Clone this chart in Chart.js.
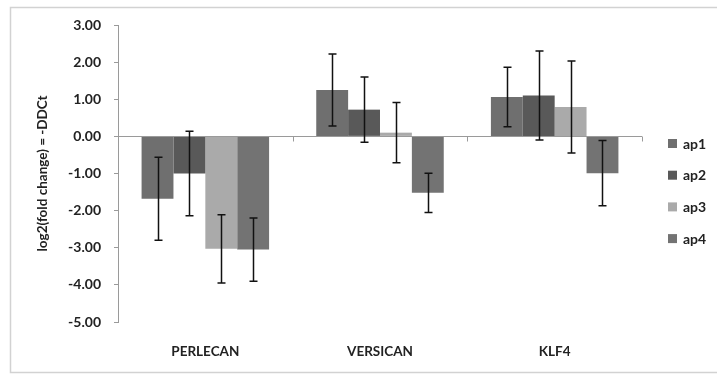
<!DOCTYPE html>
<html>
<head>
<meta charset="utf-8">
<script src="https://cdn.jsdelivr.net/npm/chart.js@4/dist/chart.umd.min.js"></script>
<style>
  html, body { margin: 0; padding: 0; background: #ffffff; }
  #wrap { width: 717px; height: 379px; position: relative; }
</style>
</head>
<body>
<div id="wrap"><canvas id="c" width="717" height="379"></canvas></div>
<script>
// Genes on the category axis
const genes = ['PERLECAN', 'VERSICAN', 'KLF4'];

// Mean -DDCt per sample, one array per sample
const ap1 = [-1.68, 1.25, 1.06];
const ap2 = [-1.00, 0.72, 1.10];
const ap3 = [-3.03, 0.10, 0.79];
const ap4 = [-3.05, -1.52, -0.99];

// Error bar half-lengths (± around each mean)
const ap1Err = [1.12, 0.97, 0.80];
const ap2Err = [1.14, 0.88, 1.20];
const ap3Err = [0.92, 0.81, 1.24];
const ap4Err = [0.85, 0.53, 0.88];

// Value-axis ticks
const yTicks = [3, 2, 1, 0, -1, -2, -3, -4, -5];

const seriesNames = ['ap1', 'ap2', 'ap3', 'ap4'];
const seriesColors = ['#6f6f6f', '#595959', '#aaaaaa', '#737373'];
const seriesValues = [ap1, ap2, ap3, ap4];
const seriesErrors = [ap1Err, ap2Err, ap3Err, ap4Err];

const FONT = 'Lato, "Open Sans", sans-serif';

// Outer frame of the chart
const framePlugin = {
  id: 'frame',
  beforeDraw(chart) {
    const ctx = chart.ctx;
    ctx.save();
    ctx.fillStyle = '#ffffff';
    ctx.fillRect(0, 0, chart.width, chart.height);
    ctx.strokeStyle = '#d2d2d2';
    ctx.lineWidth = 1.5;
    ctx.strokeRect(10.5, 7.5, chart.width + 10, 365);
    ctx.restore();
  }
};

// Zero line with category separators, drawn across the plot
const zeroLinePlugin = {
  id: 'zeroLine',
  beforeDatasetsDraw(chart) {
    const ctx = chart.ctx;
    const x = chart.scales.x, y = chart.scales.y;
    const y0 = Math.round(y.getPixelForValue(0)) + 0.5;
    ctx.save();
    ctx.strokeStyle = '#9a9a9a';
    ctx.lineWidth = 1;
    ctx.beginPath();
    ctx.moveTo(x.left, y0);
    ctx.lineTo(x.right, y0);
    const n = x.ticks.length;
    const step = (x.right - x.left) / n;
    for (let i = 1; i <= n; i++) {
      const px = Math.round(x.left + i * step) + 0.5;
      ctx.moveTo(px, y0);
      ctx.lineTo(px, y0 + 5);
    }
    ctx.stroke();
    ctx.restore();
  }
};

// Error bars with caps, positioned from each bar and the value scale
const errorBarPlugin = {
  id: 'errorBars',
  afterDatasetsDraw(chart) {
    const ctx = chart.ctx;
    const y = chart.scales.y;
    ctx.save();
    ctx.strokeStyle = '#111111';
    ctx.lineWidth = 1.5;
    chart.data.datasets.forEach((ds, di) => {
      const meta = chart.getDatasetMeta(di);
      meta.data.forEach((bar, i) => {
        const v = ds.data[i];
        const e = ds.errors[i];
        const top = y.getPixelForValue(v + e);
        const bot = y.getPixelForValue(v - e);
        const cx = Math.round(bar.x) + 0.5;
        ctx.beginPath();
        ctx.moveTo(cx, top);
        ctx.lineTo(cx, bot);
        ctx.moveTo(cx - 4, top);
        ctx.lineTo(cx + 4, top);
        ctx.moveTo(cx - 4, bot);
        ctx.lineTo(cx + 4, bot);
        ctx.stroke();
      });
    });
    ctx.restore();
  }
};

// Legend at the right, built from the datasets
const sideLegendPlugin = {
  id: 'sideLegend',
  afterDraw(chart) {
    const ctx = chart.ctx;
    const x0 = 668;
    const yStart = 143;
    const gap = 31.7;
    ctx.save();
    ctx.font = 'bold 14px ' + FONT;
    ctx.textBaseline = 'middle';
    ctx.textAlign = 'left';
    chart.data.datasets.forEach((ds, i) => {
      const cy = yStart + i * gap;
      ctx.fillStyle = ds.backgroundColor;
      ctx.fillRect(x0, cy - 4, 9, 9);
      ctx.fillStyle = '#222222';
      ctx.fillText(ds.label, x0 + 15, cy + 1);
    });
    ctx.restore();
  }
};

const datasets = seriesNames.map((name, i) => ({
  label: name,
  data: seriesValues[i],
  errors: seriesErrors[i],
  backgroundColor: seriesColors[i],
  borderWidth: 0,
  barPercentage: 1.0,
  categoryPercentage: 0.73
}));

new Chart(document.getElementById('c'), {
  type: 'bar',
  data: { labels: genes, datasets },
  options: {
    responsive: false,
    animation: false,
    devicePixelRatio: 1,
    layout: { padding: { left: 0, right: 75, top: 25, bottom: 0 } },
    plugins: {
      legend: { display: false },
      tooltip: { enabled: false }
    },
    scales: {
      x: {
        grid: { display: false, drawTicks: false },
        border: { display: false },
        ticks: {
          color: '#222222',
          font: { family: FONT, size: 13.5, weight: 'bold' },
          padding: 22,
          maxRotation: 0
        },
        afterFit(scale) { scale.height = 57; }
      },
      y: {
        min: -5,
        max: 3,
        afterBuildTicks(scale) { scale.ticks = yTicks.map(v => ({ value: v })); },
        grid: {
          display: true,
          drawOnChartArea: false,
          drawTicks: true,
          tickLength: 4,
          color: '#9a9a9a'
        },
        border: { display: true, color: '#9a9a9a' },
        ticks: {
          color: '#222222',
          font: { family: FONT, size: 14, weight: 'bold' },
          padding: 13,
          callback: v => Number(v).toFixed(2)
        },
        title: {
          display: true,
          text: 'log2(fold change) = -DDCt',
          color: '#222222',
          font: { family: FONT, size: 13.5, weight: 'bold' },
          padding: { top: 35, bottom: 0 }
        },
        afterFit(scale) { scale.width = 118; }
      }
    }
  },
  plugins: [framePlugin, zeroLinePlugin, errorBarPlugin, sideLegendPlugin]
});
</script>
</body>
</html>
